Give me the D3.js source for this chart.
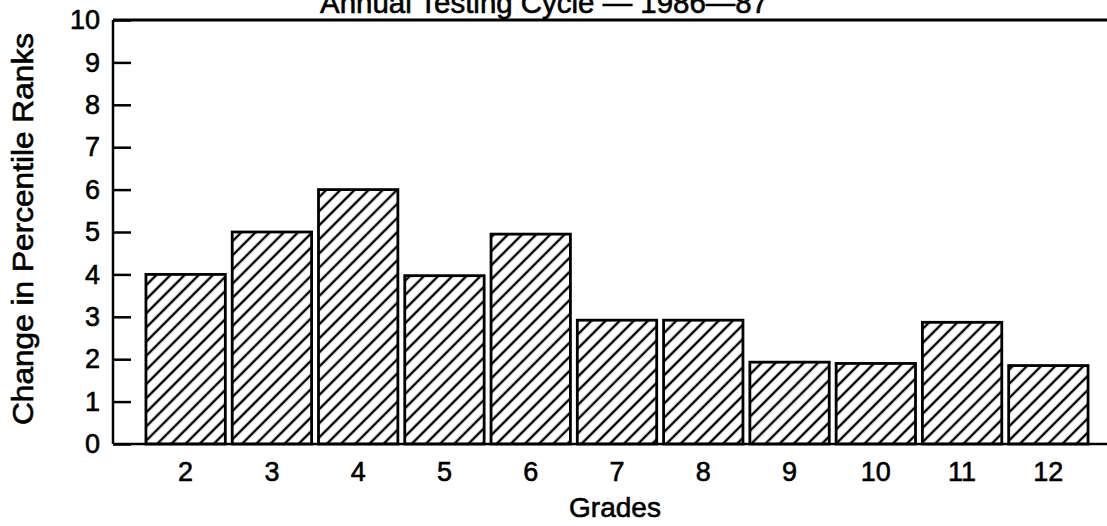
<!DOCTYPE html>
<html>
<head>
<meta charset="utf-8">
<script src="https://cdn.jsdelivr.net/npm/d3@7"></script>
<style>
	html, body { margin: 0; padding: 0; background: #fff; }
	svg { display: block; font-family: "Liberation Sans", Arial, Helvetica, sans-serif; }
	svg text { fill: #000; stroke: #000; stroke-width: 0.6px; }
	.axis path { display: none; }
	.axis line { stroke: #000; stroke-width: 2.5; }
	.axis text { font-size: 27px; }
</style>
</head>
<body>
<div id="chart"></div>
<script>
// values
const grades = ['2', '3', '4', '5', '6', '7', '8', '9', '10', '11', '12'];
const changes = [4, 5, 6, 3.97, 4.95, 2.92, 2.92, 1.93, 1.9, 2.87, 1.85];
const yTicks = [0, 1, 2, 3, 4, 5, 6, 7, 8, 9, 10];

const title = 'Annual Testing Cycle \u2014 1986\u201487';
const xTitle = 'Grades';
const yTitle = 'Change in Percentile Ranks';

const W = 1107, H = 526;
const plotLeft = 113, plotTop = 20, plotBottom = 444;

const svg = d3.select('#chart')
	.append('svg')
	.attr('width', W)
	.attr('height', H)
	.attr('viewBox', `0 0 ${W} ${H}`);

// hatch fill, "/" lines
const defs = svg.append('defs');
defs.append('pattern')
	.attr('id', 'hatch')
	.attr('patternUnits', 'userSpaceOnUse')
	.attr('width', 10)
	.attr('height', 10)
	.attr('patternTransform', 'rotate(45)')
	.append('line')
	.attr('x1', 5).attr('y1', 0)
	.attr('x2', 5).attr('y2', 10)
	.attr('stroke', '#000')
	.attr('stroke-width', 2.4);

const x = d3.scaleBand()
	.domain(grades)
	.range([142.5, 1091.5])
	.paddingInner(0.08)
	.paddingOuter(0.04);

const y = d3.scaleLinear()
	.domain([0, 10])
	.range([plotBottom, plotTop]);

// bars
svg.append('g')
	.selectAll('rect')
	.data(grades)
	.enter()
	.append('rect')
	.attr('x', d => x(d))
	.attr('width', x.bandwidth())
	.attr('y', (d, i) => y(changes[i]))
	.attr('height', (d, i) => y(0) - y(changes[i]))
	.attr('fill', 'url(#hatch)')
	.attr('stroke', '#000')
	.attr('stroke-width', 2.8);

// frame: left axis, top line and baseline
svg.append('line')
	.attr('x1', plotLeft).attr('x2', plotLeft)
	.attr('y1', y(10)).attr('y2', y(0))
	.attr('stroke', '#000').attr('stroke-width', 2.5);
svg.append('line')
	.attr('x1', plotLeft).attr('x2', W)
	.attr('y1', y(10)).attr('y2', y(10))
	.attr('stroke', '#000').attr('stroke-width', 3);
svg.append('line')
	.attr('x1', plotLeft).attr('x2', W)
	.attr('y1', y(0)).attr('y2', y(0))
	.attr('stroke', '#000').attr('stroke-width', 2.5);

// y axis, ticks pointing inward
svg.append('g')
	.attr('class', 'axis')
	.attr('transform', `translate(${plotLeft},0)`)
	.call(d3.axisLeft(y).tickValues(yTicks).tickSize(-18).tickPadding(13).tickFormat(d3.format('d')));

// x axis labels only
const xAxis = svg.append('g')
	.attr('class', 'axis')
	.attr('transform', `translate(0,${plotBottom})`)
	.call(d3.axisBottom(x).tickSize(0).tickPadding(18));
xAxis.selectAll('text').attr('dy', '0.71em');

// titles
svg.append('text')
	.attr('x', 320)
	.attr('y', 13)
	.attr('textLength', 448)
	.attr('lengthAdjust', 'spacingAndGlyphs')
	.style('font-size', '29px')
	.text(title);

svg.append('text')
	.attr('x', 615)
	.attr('y', 517)
	.attr('text-anchor', 'middle')
	.style('font-size', '28px')
	.text(xTitle);

svg.append('text')
	.attr('transform', 'translate(33,229) rotate(-90)')
	.attr('text-anchor', 'middle')
	.attr('textLength', 392)
	.attr('lengthAdjust', 'spacingAndGlyphs')
	.style('font-size', '29px')
	.text(yTitle);
</script>
</body>
</html>
